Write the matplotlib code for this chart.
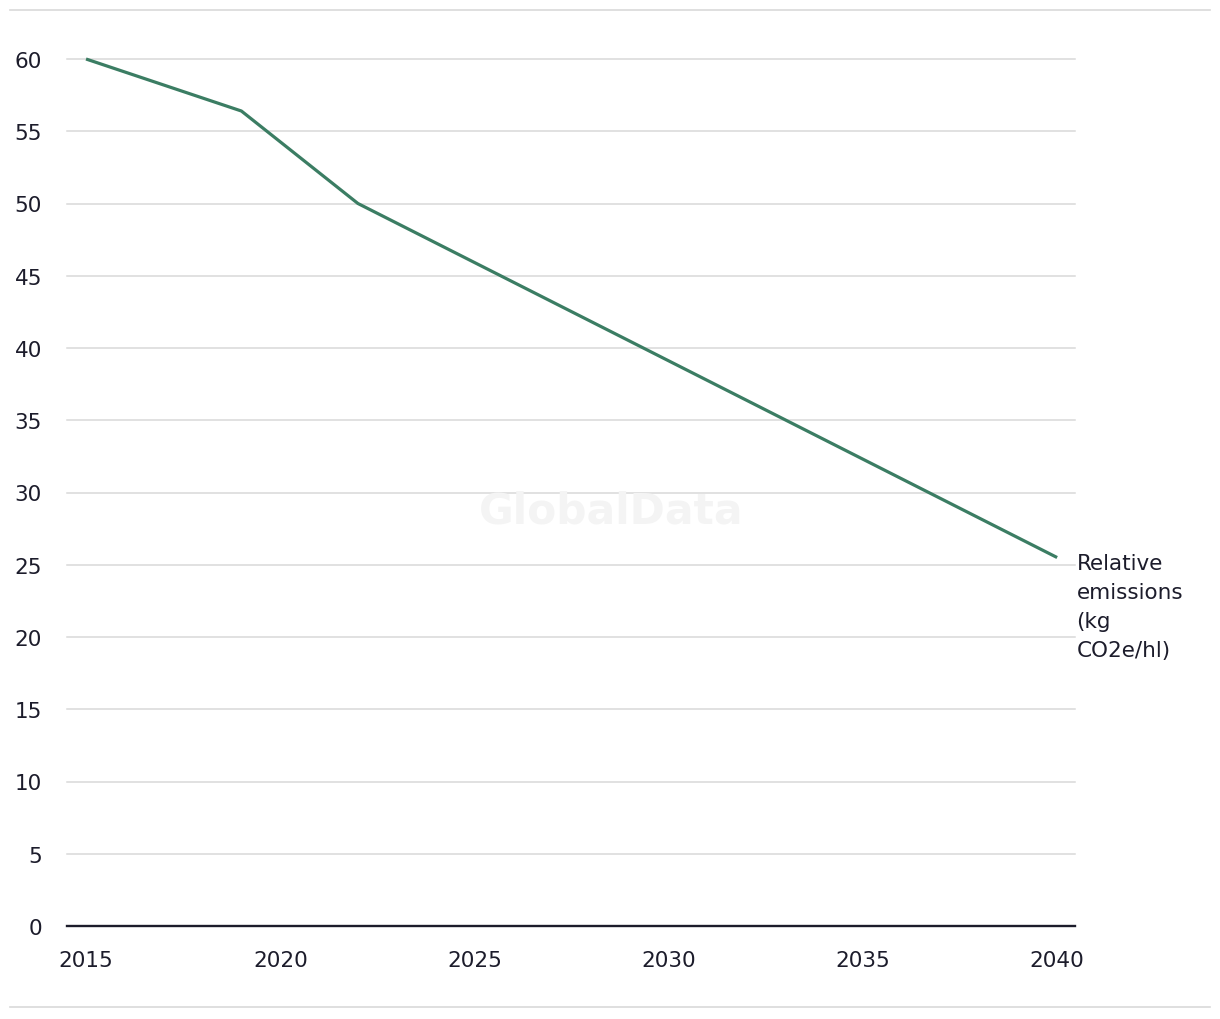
import matplotlib.pyplot as plt
from matplotlib.lines import Line2D

# data
years = [2015, 2019, 2022, 2040]
emissions = [60, 56.4, 50, 25.5]
yticks = [0, 5, 10, 15, 20, 25, 30, 35, 40, 45, 50, 55, 60]
xticks = [2015, 2020, 2025, 2030, 2035, 2040]
series_label = "Relative\nemissions\n(kg\nCO2e/hl)"

text_color = '#1c1c2b'
line_color = '#3b7d63'
grid_color = '#d9d9d9'

plt.rcParams['font.family'] = ['DejaVu Sans']
plt.rcParams['font.size'] = 15.5

fig = plt.figure(figsize=(12.2, 10.2), dpi=100)
ax = fig.add_axes([67 / 1220, 1 - 927 / 1020, (1075 - 67) / 1220, (927 - 60) / 1020])

# frame lines at top and bottom of the figure
fig.add_artist(Line2D([10 / 1220, 1210 / 1220], [1 - 10.5 / 1020] * 2, color=grid_color, lw=1.2))
fig.add_artist(Line2D([10 / 1220, 1210 / 1220], [1 - 1008 / 1020] * 2, color=grid_color, lw=1.2))

# watermark
fig.text(611 / 1220, 1 - 512 / 1020, 'GlobalData', ha='center', va='center',
         fontsize=30.5, fontweight='bold', color='#f4f4f4', zorder=0)

ax.plot(years, emissions, color=line_color, lw=2.3, clip_on=False, zorder=3,
        solid_capstyle='butt')
ax.annotate(series_label, xy=(years[-1], emissions[-1]), xytext=(14, 3),
            textcoords='offset points', ha='left', va='top', color=text_color,
            fontsize=15.5, linespacing=1.55, annotation_clip=False)

ax.set_xlim(2014.51, 2040.46)
ax.set_ylim(0, 60)
ax.set_xticks(xticks)
ax.set_yticks(yticks)
ax.set_facecolor('none')

for y in yticks[1:]:
    ax.axhline(y, color=grid_color, lw=1.1, zorder=1, clip_on=False)
ax.axhline(0, color=text_color, lw=1.7, zorder=2, clip_on=False)

for side in ['top', 'right', 'left', 'bottom']:
    ax.spines[side].set_visible(False)

ax.tick_params(axis='both', length=0, colors=text_color, labelsize=15.5)
ax.tick_params(axis='y', pad=18)
ax.tick_params(axis='x', pad=17)

fig.savefig('out.png', dpi=100)
